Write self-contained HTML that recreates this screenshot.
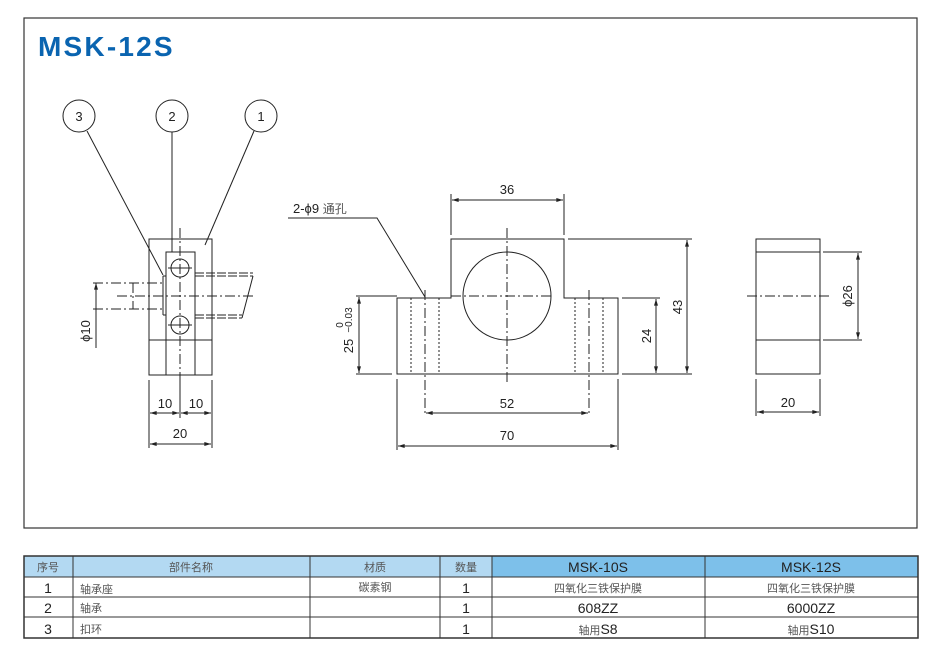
<!DOCTYPE html>
<html><head><meta charset="utf-8"><style>
body{margin:0;background:#fff;width:941px;height:660px;overflow:hidden}
svg{display:block}
text{font-family:"Liberation Sans","Noto Sans CJK SC",sans-serif;fill:#222}
.c{font-family:"Noto Sans CJK SC","Liberation Sans",sans-serif;fill:#555}
</style></head><body>
<svg width="941" height="660" xmlns="http://www.w3.org/2000/svg">
<defs><marker id="a" viewBox="0 0 10 6" refX="10" refY="3" markerWidth="7" markerHeight="4" orient="auto-start-reverse"><path d="M0,0L10,3L0,6z" fill="#222"/></marker></defs>
<rect x="24" y="18" width="893" height="510" fill="none" stroke="#333" stroke-width="1.2"/>
<text x="38" y="56" font-size="28" font-weight="bold" letter-spacing="2.2" style="fill:#0a64b0">MSK-12S</text>
<g stroke="#222" fill="none" stroke-width="1">
<circle cx="79" cy="116" r="16"/><circle cx="172" cy="116" r="16"/><circle cx="261" cy="116" r="16"/>
<line x1="87" y1="131" x2="163" y2="275"/><line x1="172" y1="132" x2="172" y2="252"/><line x1="254" y1="131" x2="205" y2="245"/>
<rect x="149" y="239" width="63" height="136"/>
<line x1="149" y1="340" x2="212" y2="340"/>
<rect x="166" y="252" width="29" height="88"/>
<line x1="166" y1="340" x2="166" y2="375"/><line x1="195" y1="340" x2="195" y2="375"/>
<circle cx="180" cy="268" r="9"/><circle cx="180" cy="325" r="9"/>
<line x1="168" y1="268" x2="192" y2="268"/><line x1="168" y1="325" x2="192" y2="325"/>
<line x1="163" y1="276" x2="163" y2="315"/><line x1="163" y1="276" x2="166" y2="276"/><line x1="163" y1="315" x2="166" y2="315"/>
<g stroke-dasharray="10,3,2,3">
<line x1="180" y1="228" x2="180" y2="380"/>
<line x1="93" y1="283" x2="162" y2="283"/><line x1="93" y1="309" x2="162" y2="309"/>
<line x1="117" y1="296" x2="253" y2="296"/>
<line x1="133" y1="283" x2="133" y2="309"/>
</g>
<g stroke-dasharray="9,2">
<line x1="195" y1="276" x2="253" y2="276"/><line x1="195" y1="273" x2="253" y2="273"/>
<line x1="195" y1="315" x2="242" y2="315"/><line x1="195" y1="318" x2="242" y2="318"/>
</g>
<line x1="253" y1="276" x2="242" y2="318"/>
<line x1="96" y1="283" x2="96" y2="348" marker-start="url(#a)"/>
<line x1="149" y1="380" x2="149" y2="448"/><line x1="212" y1="380" x2="212" y2="448"/><line x1="180" y1="380" x2="180" y2="418"/>
<line x1="150" y1="413" x2="179" y2="413" marker-start="url(#a)" marker-end="url(#a)"/>
<line x1="181" y1="413" x2="211" y2="413" marker-start="url(#a)" marker-end="url(#a)"/>
<line x1="150" y1="444" x2="211" y2="444" marker-start="url(#a)" marker-end="url(#a)"/>
<path d="M397,298H451V239H564V298H618V374H397Z"/>
<circle cx="507" cy="296" r="44"/>
<g stroke-dasharray="10,3,2,3">
<line x1="507" y1="228" x2="507" y2="385"/><line x1="451" y1="296" x2="553" y2="296"/>
<line x1="425" y1="290" x2="425" y2="414"/><line x1="589" y1="290" x2="589" y2="414"/>
</g>
<g stroke-dasharray="2,2">
<line x1="411" y1="298" x2="411" y2="374"/><line x1="439" y1="298" x2="439" y2="374"/>
<line x1="575" y1="298" x2="575" y2="374"/><line x1="603" y1="298" x2="603" y2="374"/>
</g>
<line x1="356" y1="296" x2="397" y2="296"/><line x1="356" y1="374" x2="392" y2="374"/>
<line x1="359" y1="297" x2="359" y2="373" marker-start="url(#a)" marker-end="url(#a)"/>
<line x1="622" y1="298" x2="660" y2="298"/><line x1="622" y1="374" x2="692" y2="374"/>
<line x1="656" y1="299" x2="656" y2="373" marker-start="url(#a)" marker-end="url(#a)"/>
<line x1="568" y1="239" x2="692" y2="239"/>
<line x1="687" y1="240" x2="687" y2="373" marker-start="url(#a)" marker-end="url(#a)"/>
<line x1="451" y1="194" x2="451" y2="235"/><line x1="564" y1="194" x2="564" y2="235"/>
<line x1="452" y1="200" x2="563" y2="200" marker-start="url(#a)" marker-end="url(#a)"/>
<line x1="397" y1="379" x2="397" y2="450"/><line x1="618" y1="379" x2="618" y2="450"/>
<line x1="426" y1="413" x2="588" y2="413" marker-start="url(#a)" marker-end="url(#a)"/>
<line x1="398" y1="446" x2="617" y2="446" marker-start="url(#a)" marker-end="url(#a)"/>
<polyline points="288,218 377,218 425,297"/>
<rect x="756" y="239" width="64" height="135"/>
<line x1="756" y1="252" x2="820" y2="252"/><line x1="756" y1="340" x2="820" y2="340"/>
<line x1="747" y1="296" x2="830" y2="296" stroke-dasharray="10,3,2,3"/>
<line x1="823" y1="252" x2="862" y2="252"/><line x1="823" y1="340" x2="862" y2="340"/>
<line x1="858" y1="253" x2="858" y2="339" marker-start="url(#a)" marker-end="url(#a)"/>
<line x1="756" y1="379" x2="756" y2="416"/><line x1="820" y1="379" x2="820" y2="416"/>
<line x1="757" y1="412" x2="819" y2="412" marker-start="url(#a)" marker-end="url(#a)"/>
</g>
<g font-size="13" text-anchor="middle">
<text x="79" y="121">3</text><text x="172" y="121">2</text><text x="261" y="121">1</text>
<text x="165" y="408">10</text><text x="196" y="408">10</text><text x="180" y="438">20</text>
<text x="507" y="194">36</text><text x="507" y="408">52</text><text x="507" y="440">70</text>
<text x="788" y="407">20</text>
<text transform="translate(90,331) rotate(-90)">ϕ10</text>
<text transform="translate(651,336) rotate(-90)">24</text>
<text transform="translate(682,307) rotate(-90)">43</text>
<text transform="translate(852,296) rotate(-90)">ϕ26</text>
<text transform="translate(353,346) rotate(-90)">25</text>
<text transform="translate(352,320) rotate(-90)" font-size="10">−0.03</text>
<text transform="translate(343,325) rotate(-90)" font-size="10">0</text>
</g>
<text x="293" y="213" font-size="13">2-ϕ9 <tspan class="c" font-size="12">通孔</tspan></text>
<rect x="24" y="556" width="468" height="21" fill="#b3d9f2"/>
<rect x="492" y="556" width="426" height="21" fill="#7dc0ea"/>
<g stroke="#333" stroke-width="1">
<rect x="24" y="556" width="894" height="82" fill="none" stroke-width="1.5"/>
<line x1="24" y1="577" x2="918" y2="577"/><line x1="24" y1="597" x2="918" y2="597"/><line x1="24" y1="617" x2="918" y2="617"/>
<line x1="73" y1="556" x2="73" y2="638"/><line x1="310" y1="556" x2="310" y2="638"/><line x1="440" y1="556" x2="440" y2="638"/><line x1="492" y1="556" x2="492" y2="638"/><line x1="705" y1="556" x2="705" y2="638"/>
</g>
<g font-size="11" text-anchor="middle" class="c">
<text class="c" x="48" y="571">序号</text><text class="c" x="191" y="571">部件名称</text><text class="c" x="375" y="571">材质</text><text class="c" x="466" y="571">数量</text>
<text class="c" x="375" y="591">碳素钢</text>
<text class="c" x="598" y="592">四氧化三铁保护膜</text><text class="c" x="811" y="592">四氧化三铁保护膜</text>
</g>
<g font-size="11" class="c">
<text class="c" x="80" y="593">轴承座</text><text class="c" x="80" y="612">轴承</text><text class="c" x="80" y="633">扣环</text>
</g>
<g font-size="14" text-anchor="middle">
<text x="598" y="572">MSK-10S</text><text x="811" y="572">MSK-12S</text>
<text x="48" y="593">1</text><text x="48" y="613">2</text><text x="48" y="634">3</text>
<text x="466" y="593">1</text><text x="466" y="613">1</text><text x="466" y="634">1</text>
<text x="598" y="613">608ZZ</text><text x="811" y="613">6000ZZ</text>
<text x="598" y="634"><tspan class="c" font-size="11">轴用</tspan>S8</text>
<text x="811" y="634"><tspan class="c" font-size="11">轴用</tspan>S10</text>
</g>
</svg>
</body></html>
